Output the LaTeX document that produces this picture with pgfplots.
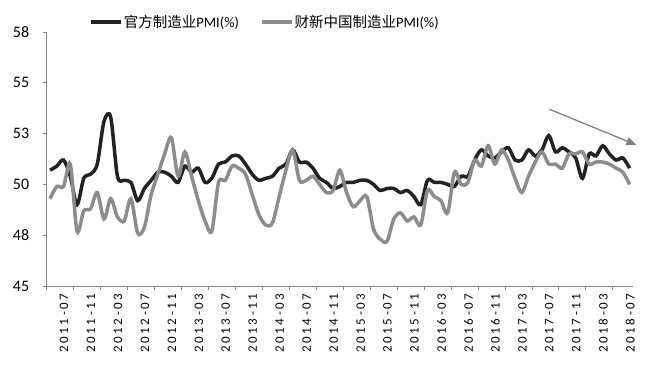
\documentclass[border=0pt]{standalone}
\usepackage{fontspec}
\setmainfont{Carlito}
\newfontfamily\cjk{Noto Sans CJK SC}
\newfontfamily\xlab[LetterSpace=20]{Carlito}
\usepackage{pgfplots}
\pgfplotsset{compat=1.18}
\usetikzlibrary{arrows.meta}
\definecolor{offblack}{HTML}{222222}
\definecolor{cxgray}{HTML}{8C8C8C}
\definecolor{axisgray}{HTML}{868686}
\definecolor{arrowgray}{HTML}{7F7F7F}
\pgfplotstableread{
i off cx
0 50.7 49.3
1 50.9 49.9
2 51.2 49.9
3 50.4 51.0
4 49.0 47.7
5 50.3 48.7
6 50.5 48.8
7 51.0 49.6
8 53.1 48.3
9 53.3 49.3
10 50.4 48.4
11 50.2 48.2
12 50.1 49.3
13 49.2 47.6
14 49.8 47.9
15 50.2 49.5
16 50.6 50.5
17 50.6 51.5
18 50.4 52.3
19 50.1 50.4
20 50.9 51.6
21 50.6 50.4
22 50.8 49.2
23 50.1 48.2
24 50.3 47.7
25 51.0 50.1
26 51.1 50.2
27 51.4 50.9
28 51.4 50.8
29 51.0 50.5
30 50.5 49.5
31 50.2 48.5
32 50.3 48.0
33 50.4 48.1
34 50.8 49.4
35 51.0 50.7
36 51.7 51.7
37 51.1 50.2
38 51.1 50.2
39 50.8 50.4
40 50.3 50.0
41 50.1 49.6
42 49.8 49.7
43 49.9 50.7
44 50.1 49.6
45 50.1 48.9
46 50.2 49.2
47 50.2 49.4
48 50.0 47.8
49 49.7 47.3
50 49.8 47.2
51 49.8 48.3
52 49.6 48.6
53 49.7 48.2
54 49.4 48.4
55 49.0 48.0
56 50.2 49.7
57 50.1 49.4
58 50.1 49.2
59 50.0 48.6
60 49.9 50.6
61 50.4 50.0
62 50.4 50.1
63 51.2 51.2
64 51.7 50.9
65 51.4 51.9
66 51.3 51.0
67 51.6 51.7
68 51.8 51.2
69 51.2 50.3
70 51.2 49.6
71 51.7 50.4
72 51.4 51.1
73 51.7 51.6
74 52.4 51.0
75 51.6 51.0
76 51.8 50.8
77 51.6 51.5
78 51.3 51.5
79 50.3 51.6
80 51.5 51.0
81 51.4 51.1
82 51.9 51.1
83 51.5 51.0
84 51.2 50.8
85 51.3 50.6
86 50.8 50.0
}\pmidata
\begin{document}
\begin{tikzpicture}
\useasboundingbox (-46.7pt,-87pt) rectangle (598.3pt,286pt);
\begin{axis}[
  at={(0,0)}, anchor=south west,
  scale only axis, width=586.3pt, height=254pt,
  xmin=-0.5, xmax=86.5, ymin=45, ymax=57.5,
  axis x line=bottom, axis y line=left,
  axis line style={-, draw=axisgray, line width=0.8pt},
  ytick={45,47.5,50,52.5,55,57.5},
  yticklabels={45,48,50,53,55,58},
  xtick={0,4,...,84},
  xticklabels={2011-07,2011-11,2012-03,2012-07,2012-11,2013-03,2013-07,2013-11,2014-03,2014-07,2014-11,2015-03,2015-07,2015-11,2016-03,2016-07,2016-11,2017-03,2017-07,2017-11,2018-03,2018-07},
  minor xtick={-0.5,3.5,...,83.5},
  every major x tick/.append style={draw=none},
  tick align=outside,
  major tick length=4pt, minor tick length=4pt,
  tick style={draw=axisgray, line width=0.8pt},
  x tick label style={rotate=90, anchor=east, font=\xlab\fontsize{13}{13}\selectfont, yshift=-14pt},
  y tick label style={font=\fontsize{16}{16}\selectfont, xshift=-10pt},
  clip=false,
  legend columns=2,
  legend style={draw=none, fill=none, at={(0.3715,1)}, anchor=center, yshift=10pt,
    font=\fontsize{14.5}{14.5}\selectfont, inner sep=0pt,
    nodes={inner sep=1pt},
    /tikz/every even column/.append style={column sep=20pt}},
  legend image code/.code={\draw[#1] (0pt,0pt) -- (30pt,0pt);},
]
\addplot[offblack, line width=3.5pt, smooth] table[x=i, y=off] {\pmidata};
\addlegendentry{{\cjk\fontsize{14.5}{14.5}\selectfont 官方制造业}PMI(\%)}
\addplot[cxgray, line width=3.5pt, smooth] table[x=i, y=cx] {\pmidata};
\addlegendentry{{\cjk\fontsize{14.5}{14.5}\selectfont 财新中国制造业}PMI(\%)}
\draw[draw=arrowgray, line width=1.3pt, -{Triangle[length=10pt,width=8pt]}] (axis cs:74.1,53.7) -- (axis cs:87.0,51.94);
\end{axis}
\end{tikzpicture}
\end{document}
